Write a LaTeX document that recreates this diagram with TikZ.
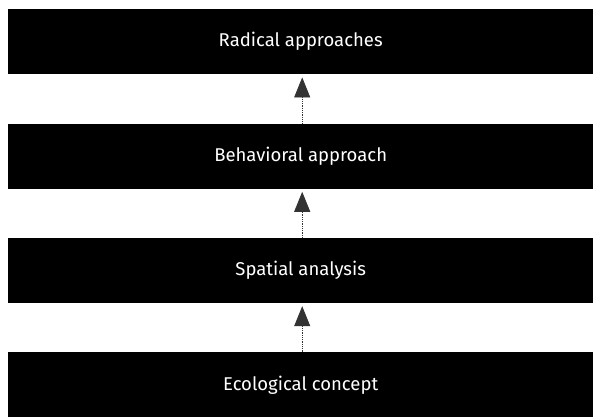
\documentclass[tikz,border=0pt]{standalone}
\usepackage{fontspec}
\setmainfont{Fira Sans}
\usepackage{tikz}
\usetikzlibrary{positioning,arrows.meta}

\begin{document}
\begin{tikzpicture}[
  font=\fontsize{18.5}{21}\selectfont,
  node distance=49pt,
  stage/.style={fill=black,text=white,minimum width=585pt,minimum height=65pt,inner sep=0pt},
  ar/.style={{-{Triangle[length=20pt,width=16pt]}},densely dotted,gray!40!black,line width=0.8pt}
]
\useasboundingbox (0,0) rectangle (593pt,-416pt);
\node[stage,anchor=north west] (radical) at (8pt,-9pt) {Radical approaches};
\node[stage,below=of radical] (behav) {Behavioral approach};
\node[stage,below=of behav] (spatial) {Spatial analysis};
\node[stage,below=of spatial] (eco) {Ecological concept};

\draw[ar] ([xshift=1.5pt]behav.north) -- ([xshift=1.5pt,yshift=-3pt]radical.south);
\draw[ar] ([xshift=1.5pt]spatial.north) -- ([xshift=1.5pt,yshift=-3pt]behav.south);
\draw[ar] ([xshift=1.5pt]eco.north) -- ([xshift=1.5pt,yshift=-3pt]spatial.south);
\end{tikzpicture}
\end{document}
